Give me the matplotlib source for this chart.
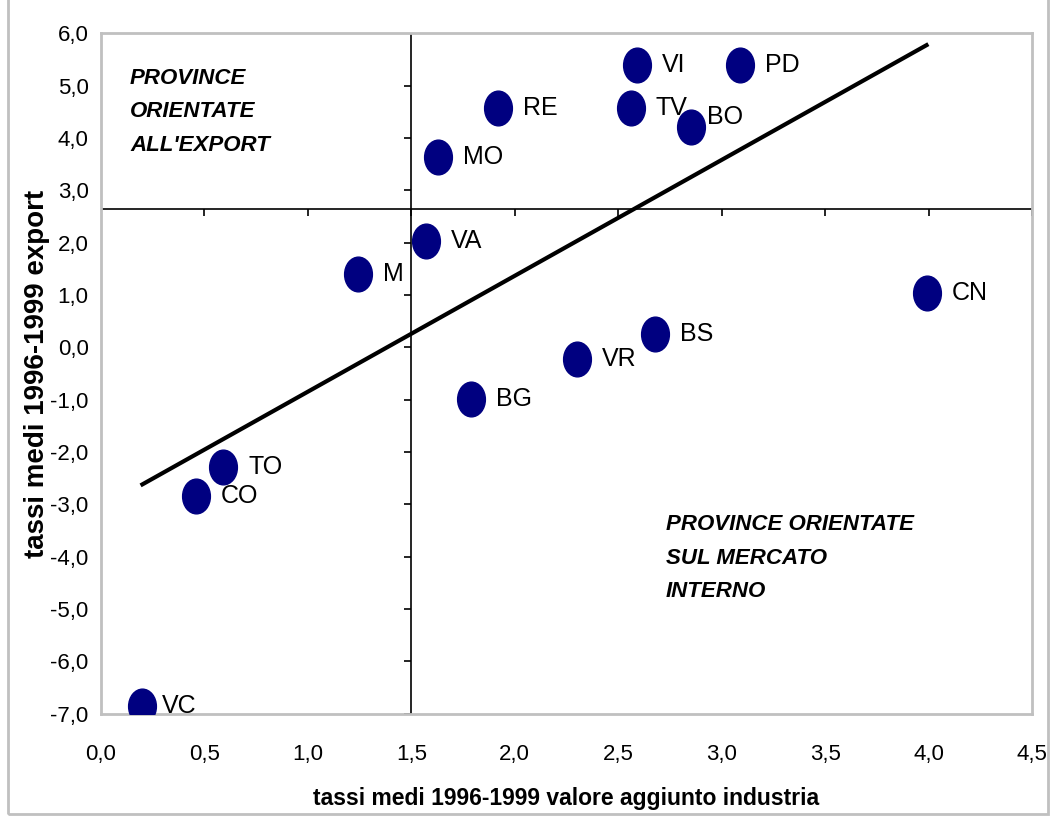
import numpy as np
import matplotlib.pyplot as plt
from matplotlib.path import Path
from matplotlib.patches import Rectangle
from matplotlib.transforms import Affine2D
from matplotlib.ticker import FuncFormatter

# province, crescita media valore aggiunto industria e export 1996-1999
province = ['VI', 'PD', 'RE', 'TV', 'BO', 'MO', 'VA', 'M', 'CN', 'BS',
            'VR', 'BG', 'TO', 'CO', 'VC']
valore_aggiunto = [2.59, 3.09, 1.92, 2.56, 2.85, 1.63, 1.57, 1.24, 3.99, 2.68,
                   2.30, 1.79, 0.59, 0.46, 0.20]
export = [5.40, 5.40, 4.58, 4.58, 4.21, 3.64, 2.03, 1.40, 1.04, 0.25,
          -0.22, -0.99, -2.29, -2.84, -6.86]

# valori medi su cui si incrociano gli assi
va_medio = 1.5
export_medio = 2.64

x_ticks = np.arange(0, 4.51, 0.5)
y_ticks = np.arange(-7, 6.01, 1.0)

NAVY = '#000080'
GRIGIO = '#c0c0c0'
FONT = 'Liberation Sans'
plt.rcParams['font.family'] = FONT


def virgola(v, pos):
    return f'{v:.1f}'.replace('.', ',')


fig = plt.figure(figsize=(10.5, 8.23), dpi=100)
ax = fig.add_axes([0.0962, 0.133, 0.8867, 0.8263])

# assi che si incrociano sui valori medi, con le tacche
ax.axhline(export_medio, color='black', lw=1.2, zorder=2)
ax.axvline(va_medio, color='black', lw=1.2, zorder=2)
ax.plot(x_ticks, [export_medio] * len(x_ticks), ls='none', marker=3,
        ms=5, mew=1.2, color='black', zorder=2)
ax.plot([va_medio] * len(y_ticks), y_ticks, ls='none', marker=0,
        ms=5, mew=1.2, color='black', zorder=2)

# retta di regressione
x = np.array(valore_aggiunto)
y = np.array(export)
b, a = np.polyfit(x, y, 1)
xr = np.array([x.min(), x.max()])
ax.plot(xr, a + b * xr, color='black', lw=3, zorder=3)

# punti ellittici
ellisse = Path.unit_circle().transformed(Affine2D().scale(0.8, 1.0))
ax.plot(x, y, ls='none', marker=ellisse, ms=25, color=NAVY, zorder=4)

spost = {'BO': (12, 7), 'VC': (14, 0)}
for nome, xi, yi in zip(province, valore_aggiunto, export):
    dx, dy = spost.get(nome, (18, 0))
    ax.annotate(nome, (xi, yi), xytext=(dx, dy), textcoords='offset points',
                ha='left', va='center', fontsize=18, zorder=5)

ax.text(0.14, 4.5, "PROVINCE\nORIENTATE\nALL'EXPORT", fontsize=16,
        weight='bold', style='italic', linespacing=1.8,
        va='center', ha='left')
ax.text(2.73, -4.03, "PROVINCE ORIENTATE\nSUL MERCATO\nINTERNO", fontsize=16,
        weight='bold', style='italic', linespacing=1.8,
        va='center', ha='left')

ax.set_xlim(0, 4.5)
ax.set_ylim(-7, 6)
ax.set_xticks(x_ticks)
ax.set_yticks(y_ticks)
ax.xaxis.set_major_formatter(FuncFormatter(virgola))
ax.yaxis.set_major_formatter(FuncFormatter(virgola))
ax.tick_params(axis='x', length=0, pad=22, labelsize=16)
ax.tick_params(axis='y', length=0, pad=9, labelsize=16)
for s in ax.spines.values():
    s.set_color(GRIGIO)
    s.set_linewidth(2)

ax.set_xlabel('tassi medi 1996-1999 valore aggiunto industria', fontsize=16.5,
              weight='bold', labelpad=16)
ax.set_ylabel('tassi medi 1996-1999 export', fontsize=20,
              weight='bold', labelpad=0)

# cornice esterna del grafico
fig.patches.append(Rectangle((1048, -5), 10, 840, transform=None,
                             facecolor='white', edgecolor='none', zorder=10))
fig.patches.append(Rectangle((8, 9), 1040, 830, transform=None, fill=False,
                             edgecolor=GRIGIO, lw=2, zorder=11))

fig.savefig('out.png', dpi=100)
